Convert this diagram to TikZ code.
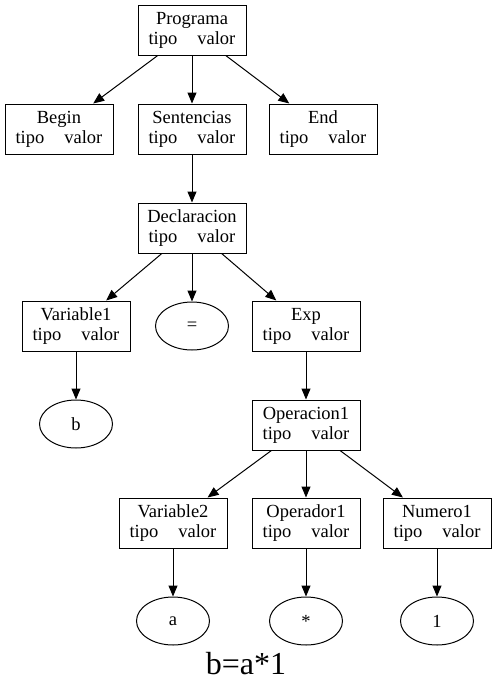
\documentclass[tikz,border=0pt]{standalone}
\usepackage{fontspec}
\setmainfont{Liberation Serif}
\usetikzlibrary{arrows.meta,shapes.geometric}
\tikzset{
  box/.style={draw, line width=1pt, minimum width=108pt, minimum height=50pt, inner sep=0pt, align=center, font=\fontsize{18.5}{20}\selectfont},
  leaf/.style={draw, ellipse, line width=1pt, minimum width=73pt, minimum height=48pt, inner sep=0pt, font=\fontsize{18.5}{20}\selectfont},
  edge/.style={line width=1pt, -{Triangle[length=11pt,width=9pt]}}
}
\newcommand{\tv}{tipo\hspace{20pt}valor}
\begin{document}
\begin{tikzpicture}[x=1pt,y=-1pt]
\useasboundingbox (0,0) rectangle (497,696);
\node[box] (prog) at (192,30) {Programa\\\tv};
\node[box] (begin) at (59,129) {Begin\\\tv};
\node[box] (sent) at (192,129) {Sentencias\\\tv};
\node[box] (end) at (323,129) {End\\\tv};
\node[box] (decl) at (192,228) {Declaracion\\\tv};
\node[box] (var1) at (76,326) {Variable1\\\tv};
\node[leaf] (eq) at (192,326) {=};
\node[box] (exp) at (306,326) {Exp\\\tv};
\node[leaf] (b) at (76,424) {b};
\node[box] (op1) at (306,425) {Operacion1\\\tv};
\node[box] (var2) at (173,523) {Variable2\\\tv};
\node[box] (opr) at (306,523) {Operador1\\\tv};
\node[box] (num) at (437,523) {Numero1\\\tv};
\node[leaf] (a) at (173,621) {a};
\node[leaf] (star) at (306,621) {*};
\node[leaf] (one) at (437,621) {1};
\node[font=\fontsize{32}{36}\selectfont] (title) at (246,664) {b=a*1};
\draw[edge] (prog) -- (begin);
\draw[edge] (prog) -- (sent);
\draw[edge] (prog) -- (end);
\draw[edge] (sent) -- (decl);
\draw[edge] (decl) -- (var1);
\draw[edge] (decl) -- (eq);
\draw[edge] (decl) -- (exp);
\draw[edge] (var1) -- (b);
\draw[edge] (exp) -- (op1);
\draw[edge] (op1) -- (var2);
\draw[edge] (op1) -- (opr);
\draw[edge] (op1) -- (num);
\draw[edge] (var2) -- (a);
\draw[edge] (opr) -- (star);
\draw[edge] (num) -- (one);
\end{tikzpicture}
\end{document}
